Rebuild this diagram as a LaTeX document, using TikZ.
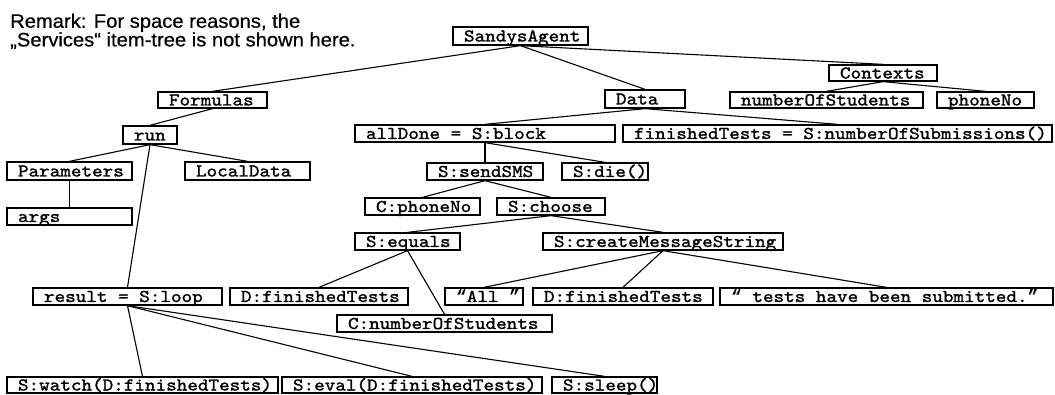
\documentclass[tikz,border=0pt]{standalone}
\usepackage{fontspec}
\newfontfamily\remfont{Liberation Sans}[FakeStretch=1.04,FakeBold=0.6]
\newfontfamily\bxfont{lmmono10-regular}[Extension=.otf,FakeStretch=1.12,FakeBold=1.4]
\newfontfamily\qfont{Liberation Mono}[FakeBold=1]
\usetikzlibrary{backgrounds}
\tikzset{
  bxs/.style={draw, line width=1.3pt, fill=white, inner xsep=11pt, inner ysep=0pt,
    text height=13pt, text depth=2pt, font=\bxfont\fontsize{18}{18}\selectfont},
  conn/.style={line width=1.1pt},
  remstyle/.style={anchor=north west, align=left, inner sep=0pt,
    font=\remfont\fontsize{19.4}{18.6}\selectfont},
}
\newcommand\treebox[6]{\node[bxs, minimum width={(#4-#2)*1pt}, minimum height={(#5-#3)*1pt}] (#1) at ({(#2+#4)/2},{(#3+#5)/2}) {\makebox[\dimexpr #4pt-#2pt-22pt\relax][l]{#6}};}
\newcommand\oq{{\qfont “}}
\newcommand\cq{{\qfont ”}}
\begin{document}
\begin{tikzpicture}[x=1pt,y=-1pt]
\useasboundingbox (0,0) rectangle (1055,395);
\node[remstyle] (remark) at (10,13.5) {Remark: For space reasons, the\\„Services“ item-tree is not shown here.};
\treebox{SandysAgent}{453}{27}{588}{45}{SandysAgent}
\treebox{Formulas}{158}{92}{267}{108}{Formulas}
\treebox{Data}{605}{90}{685}{108}{Data}
\treebox{Contexts}{829}{65}{937}{81}{Contexts}
\treebox{nos}{730}{92}{923}{108}{numberOfStudents}
\treebox{phone}{937}{92}{1034}{108}{phoneNo}
\treebox{run}{123}{126}{177}{144}{run}
\treebox{Parameters}{7}{162}{132}{180}{Parameters}
\treebox{LocalData}{185}{162}{310}{180}{LocalData}
\treebox{args}{7}{208}{132}{225}{args}
\treebox{allDone}{355}{125}{615}{142}{allDone = S:block}
\treebox{fT}{623}{125}{1052}{142}{finishedTests = S:numberOfSubmissions()}
\treebox{sendSMS}{427}{163}{543}{180}{S:sendSMS}
\treebox{die}{562}{163}{648}{180}{S:die()}
\treebox{cphone}{365}{198}{480}{215}{C:phoneNo}
\treebox{choose}{497}{198}{605}{215}{S:choose}
\treebox{equals}{355}{233}{460}{250}{S:equals}
\treebox{cms}{543}{233}{783}{250}{S:createMessageString}
\treebox{result}{33}{288}{222}{305}{result = S:loop}
\treebox{dft1}{230}{288}{408}{305}{D:finishedTests}
\treebox{cnos}{337}{315}{552}{332}{C:numberOfStudents}
\treebox{all}{445}{288}{523}{305}{\oq All \cq}
\treebox{dft2}{533}{288}{713}{305}{D:finishedTests}
\treebox{tests}{720}{288}{1053}{305}{\oq\ tests have been submitted.\cq}
\treebox{watch}{7}{377}{278}{393}{S:watch(D:finishedTests)}
\treebox{eval}{282}{377}{542}{393}{S:eval(D:finishedTests)}
\treebox{sleep}{552}{377}{657}{393}{S:sleep()}
\begin{scope}[on background layer]
\draw[conn] (SandysAgent.south) -- (Formulas.north);
\draw[conn] (SandysAgent.south) -- (Data.north);
\draw[conn] (SandysAgent.south) -- (Contexts.north);
\draw[conn] (Contexts.south) -- (nos.north);
\draw[conn] (Contexts.south) -- (phone.north);
\draw[conn] (Formulas.south) -- (run.north);
\draw[conn] (run.south) -- (Parameters.north);
\draw[conn] (run.south) -- (LocalData.north);
\draw[conn] (run.south) -- (result.north);
\draw[conn] (Parameters.south) -- (args.north);
\draw[conn] (Data.south) -- (allDone.north);
\draw[conn] (Data.south) -- (fT.north);
\draw[conn] (allDone.south) -- (sendSMS.north);
\draw[conn] (allDone.south) -- (die.north);
\draw[conn] (sendSMS.south) -- (cphone.north);
\draw[conn] (sendSMS.south) -- (choose.north);
\draw[conn] (choose.south) -- (equals.north);
\draw[conn] (choose.south) -- (cms.north);
\draw[conn] (equals.south) -- (dft1.north);
\draw[conn] (equals.south) -- (cnos.north);
\draw[conn] (cms.south) -- (all.north);
\draw[conn] (cms.south) -- (dft2.north);
\draw[conn] (cms.south) -- (tests.north);
\draw[conn] (result.south) -- (watch.north);
\draw[conn] (result.south) -- (eval.north);
\draw[conn] (result.south) -- (sleep.north);
\end{scope}
\end{tikzpicture}
\end{document}
